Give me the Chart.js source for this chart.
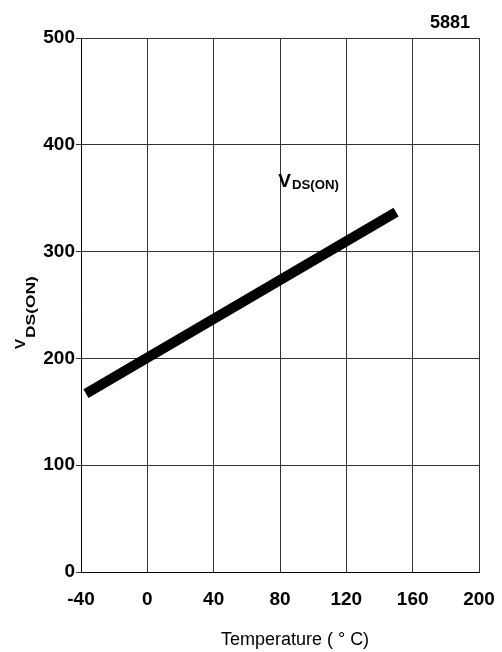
<!DOCTYPE html>
<html>
<head>
<meta charset="utf-8">
<script src="https://cdn.jsdelivr.net/npm/chart.js@4.4.1/dist/chart.umd.min.js"></script>
<style>
  html, body { margin: 0; padding: 0; background: #fff; }
  #wrap { width: 502px; height: 652px; }
</style>
</head>
<body>
<div id="wrap"><canvas id="vdsChart" width="502" height="652"></canvas></div>
<script>
// VDS(ON) vs temperature
const tempC = [-37, 150];
const vdsOn = [167, 337];

const xTicks = [-40, 0, 40, 80, 120, 160, 200];
const yTicks = [0, 100, 200, 300, 400, 500];

const partNo = '5881';
const xTitle = 'Temperature ( ° C)';
const curveLabel = { main: 'V', sub: 'DS(ON)', x: 79, y: 360 };

const FONT = '"Liberation Sans", Arial, sans-serif';

// main letter + stretched subscript, from ctx origin on the baseline
function drawSubText(ctx, main, sub, mainSize, subSize, drop, stretch) {
  ctx.font = `bold ${mainSize}px ${FONT}`;
  ctx.fillText(main, 0, 0);
  const w = ctx.measureText(main).width + 1;
  ctx.font = `bold ${subSize}px ${FONT}`;
  ctx.save();
  ctx.translate(w, drop);
  ctx.scale(stretch, 1);
  ctx.fillText(sub, 0, 0);
  ctx.restore();
  return w + ctx.measureText(sub).width * stretch;
}

const textPlugin = {
  id: 'textPlugin',
  afterDraw(chart) {
    const ctx = chart.ctx;
    const area = chart.chartArea;
    const xs = chart.scales.x;
    const ys = chart.scales.y;
    ctx.save();
    ctx.fillStyle = '#000';
    ctx.textBaseline = 'alphabetic';

    // part number, top right
    ctx.font = `bold 18px ${FONT}`;
    ctx.textAlign = 'right';
    ctx.fillText(partNo, area.right - 9, 28);

    // x axis title (sits a bit right of centre in the original)
    ctx.font = `18px ${FONT}`;
    ctx.textAlign = 'center';
    ctx.fillText(xTitle, (area.left + area.right) / 2 + 15, 645);
    ctx.textAlign = 'left';

    // curve label
    ctx.save();
    ctx.translate(xs.getPixelForValue(curveLabel.x), ys.getPixelForValue(curveLabel.y) - 1);
    drawSubText(ctx, curveLabel.main, curveLabel.sub, 19, 12, 2, 1.1);
    ctx.restore();

    // y axis title, rotated
    ctx.save();
    ctx.translate(25, 349);
    ctx.rotate(-Math.PI / 2);
    drawSubText(ctx, 'V', 'DS(ON)', 15, 12, 10, 1.45);
    ctx.restore();

    ctx.restore();
  }
};

new Chart(document.getElementById('vdsChart'), {
  type: 'scatter',
  data: {
    datasets: [{
      label: 'VDS(ON)',
      data: tempC.map((t, i) => ({ x: t, y: vdsOn[i] })),
      showLine: true,
      borderColor: '#000',
      borderWidth: 10,
      borderCapStyle: 'butt',
      pointRadius: 0,
      fill: false
    }]
  },
  options: {
    responsive: false,
    animation: false,
    layout: { padding: { top: 38, right: 23, left: 0, bottom: 0 } },
    plugins: {
      legend: { display: false },
      tooltip: { enabled: false }
    },
    scales: {
      x: {
        type: 'linear',
        min: xTicks[0],
        max: xTicks[xTicks.length - 1],
        afterBuildTicks: (s) => { s.ticks = xTicks.map(v => ({ value: v })); },
        afterFit: (s) => { s.height = 80; s.paddingLeft = 0; s.paddingRight = 0; },
        grid: { color: '#333', lineWidth: 1, drawTicks: false },
        border: { color: '#000', width: 1 },
        ticks: {
          color: '#000',
          padding: 16,
          maxRotation: 0,
          font: { family: FONT, size: 19, weight: 'bold' }
        }
      },
      y: {
        type: 'linear',
        min: yTicks[0],
        max: yTicks[yTicks.length - 1],
        afterBuildTicks: (s) => { s.ticks = yTicks.map(v => ({ value: v })); },
        afterFit: (s) => { s.width = 81; s.paddingTop = 0; s.paddingBottom = 0; },
        grid: { color: '#333', lineWidth: 1, tickLength: 5 },
        border: { color: '#000', width: 1 },
        ticks: {
          color: '#000',
          padding: 1,
          font: { family: FONT, size: 19, weight: 'bold' }
        }
      }
    }
  },
  plugins: [textPlugin]
});
</script>
</body>
</html>
